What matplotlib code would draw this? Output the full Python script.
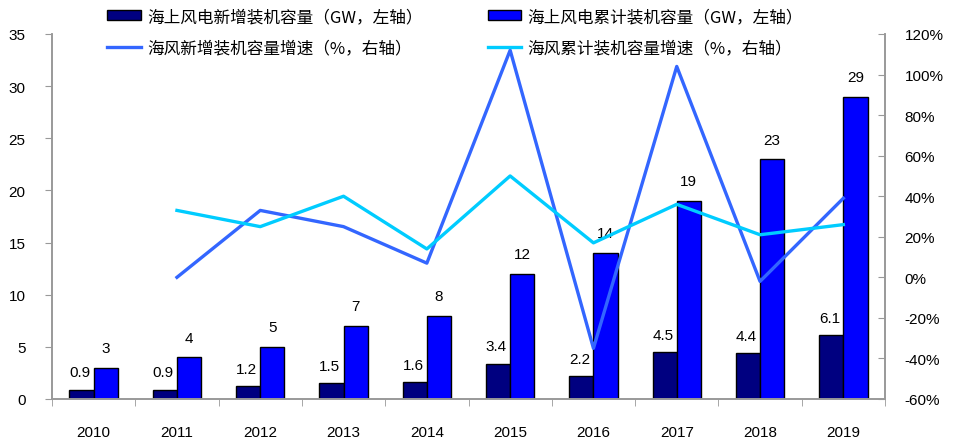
import matplotlib
matplotlib.use("Agg")
import matplotlib.pyplot as plt
import numpy as np

plt.rcParams['font.family'] = ['Liberation Sans', 'Noto Sans CJK SC', 'DejaVu Sans']

years = ['2010', '2011', '2012', '2013', '2014', '2015', '2016', '2017', '2018', '2019']
new_cap = [0.9, 0.9, 1.2, 1.5, 1.6, 3.4, 2.2, 4.5, 4.4, 6.1]
cum_cap = [3, 4, 5, 7, 8, 12, 14, 19, 23, 29]
new_growth = [None, 0, 33, 25, 7, 112, -35, 104, -2, 39]
cum_growth = [None, 33, 25, 40, 14, 50, 17, 36, 21, 26]
new_labels = ['0.9', '0.9', '1.2', '1.5', '1.6', '3.4', '2.2', '4.5', '4.4', '6.1']
cum_labels = ['3', '4', '5', '7', '8', '12', '14', '19', '23', '29']

names = ['海上风电新增装机容量（GW，左轴）', '海上风电累计装机容量（GW，左轴）',
         '海风新增装机容量增速（%，右轴）', '海风累计装机容量增速（%，右轴）']

fig = plt.figure(figsize=(9.56, 4.39), dpi=100)
ax = fig.add_axes([52/956, 1-400/439, (885-52)/956, (400-35)/439])
ax2 = ax.twinx()

x = np.arange(len(years))
w = 0.29
b1 = ax.bar(x - w/2, new_cap, w, color='#000080', edgecolor='black', linewidth=1.0, zorder=2)
b2 = ax.bar(x + w/2, cum_cap, w, color='#0000FF', edgecolor='black', linewidth=1.0, zorder=2)

for xi, v, lab in zip(x, new_cap, new_labels):
    ax.text(xi - w/2 - 0.02, v + 1.0, lab, ha='center', va='bottom', fontsize=11, zorder=5)
for xi, v, lab in zip(x, cum_cap, cum_labels):
    ax.text(xi + w/2, v + 1.2, lab, ha='center', va='bottom', fontsize=11, zorder=5)

xg = x[1:]
ng = np.array(new_growth[1:], dtype=float)
cg = np.array(cum_growth[1:], dtype=float)
l1, = ax2.plot(xg, ng, color='#3366FF', linewidth=2.4, solid_joinstyle='round')
l2, = ax2.plot(xg, cg, color='#00CCFF', linewidth=2.4, solid_joinstyle='round')

ax.set_xlim(-0.5, 9.5)
ax.set_ylim(0, 35)
ax.set_yticks(range(0, 36, 5))
ax2.set_ylim(-60, 120)
ax2.set_yticks(range(-60, 121, 20))
ax2.set_yticklabels([f'{v}%' for v in range(-60, 121, 20)])

ax.set_xticks(x)
ax.set_xticklabels(years)
ax.set_xticks(np.arange(-0.5, 10, 1), minor=True)
ax.tick_params(axis='x', which='major', length=0, pad=19, labelsize=11)
ax.tick_params(axis='x', which='minor', length=5, color='#999999', direction='out')
ax.tick_params(axis='y', labelsize=11, length=5, color='#999999', direction='out', pad=14)
ax2.tick_params(axis='y', labelsize=11, length=5, color='#999999', direction='in', pad=14)

for a in (ax, ax2):
    a.spines['top'].set_visible(False)
    for s in ('left', 'right', 'bottom'):
        a.spines[s].set_color('#999999')
        a.spines[s].set_linewidth(1.2)
ax2.set_zorder(ax.get_zorder() + 1)
ax2.patch.set_visible(False)

# legend (column-major fill: col1 = bar1, line1; col2 = bar2, line2)
handles = [b1, l1, b2, l2]
labels = [names[0], names[2], names[1], names[3]]
leg = fig.legend(handles, labels, loc='upper left', bbox_to_anchor=(98/956, 1.0),
                 ncol=2, frameon=False, handlelength=2.0, handleheight=0.55,
                 columnspacing=3.9, labelspacing=0.85, handletextpad=0.4,
                 borderaxespad=0.0, borderpad=0.55,
                 prop={'family': ['Noto Sans CJK SC', 'DejaVu Sans'], 'size': 12})

fig.savefig('out.png', dpi=100)
